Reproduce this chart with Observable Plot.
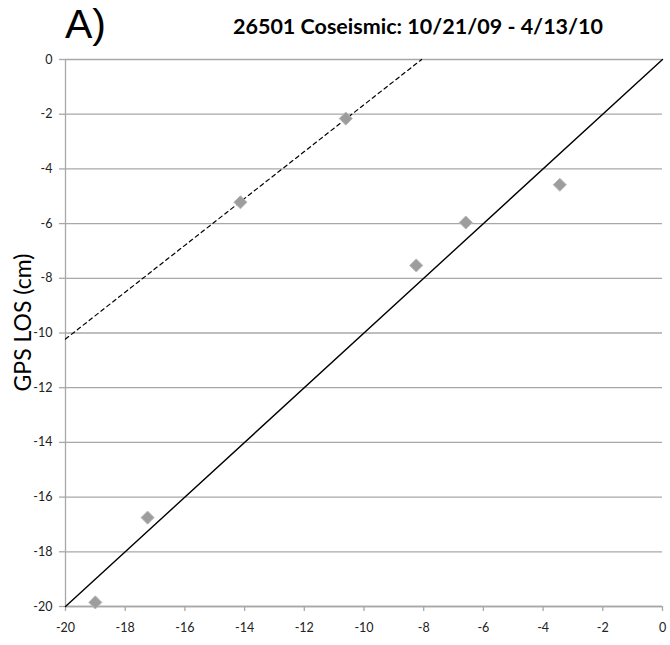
<!DOCTYPE html>
<html><head><meta charset="utf-8">
<script src="https://cdn.jsdelivr.net/npm/d3@7"></script>
<script src="https://cdn.jsdelivr.net/npm/@observablehq/plot@0.6"></script>
<style>body{margin:0;background:#fff}</style>
</head><body><div id="chart"></div>
<script>
// data
const pointX = [-19.0, -17.25, -14.14, -10.61, -8.25, -6.59, -3.44];
const pointY = [-19.85, -16.75, -5.22, -2.16, -7.53, -5.96, -4.58];
const oneToOneX = [-20, 0];
const oneToOneY = [-20, 0];
const fitX = [-20, -8.07];
const fitY = [-10.22, 0];
const tickValues = [-20, -18, -16, -14, -12, -10, -8, -6, -4, -2, 0];
const titleText = "26501 Coseismic: 10/21/09 - 4/13/10";
const panelText = "A)";
const yLabelText = "GPS LOS (cm)";

const points = pointX.map((x, i) => ({x, y: pointY[i]}));
const solid = oneToOneX.map((x, i) => ({x, y: oneToOneY[i]}));
const dashed = fitX.map((x, i) => ({x, y: fitY[i]}));

const grid = "#a8a8a8";
const fmt = d => String(d);
const chart = Plot.plot({
  width: 670, height: 645,
  marginLeft: 65, marginRight: 8, marginTop: 59, marginBottom: 39,
  style: {fontFamily: "Lato, 'Open Sans', sans-serif", background: "#fff", color: "#222"},
  x: {domain: [-20, 0]},
  y: {domain: [-20, 0]},
  marks: [
    Plot.gridY(tickValues, {stroke: grid, strokeOpacity: 1, strokeWidth: 1.3}),
    Plot.ruleX([-20], {stroke: grid, strokeWidth: 1.3}),
    Plot.ruleY([-20], {stroke: grid, strokeWidth: 1.3}),
    Plot.axisY({ticks: tickValues, tickSize: 6, tickPadding: 7, stroke: grid, strokeWidth: 1.3, fontSize: 12.5, label: null, tickFormat: fmt}),
    Plot.axisX({ticks: tickValues, tickSize: 5, tickPadding: 12, stroke: grid, strokeWidth: 1.3, fontSize: 12.5, label: null, tickFormat: fmt}),
    Plot.line(solid, {x: "x", y: "y", stroke: "black", strokeWidth: 1.4}),
    Plot.line(dashed, {x: "x", y: "y", stroke: "black", strokeWidth: 1.2, strokeDasharray: "4,3.5"}),
    Plot.dot(points, {x: "x", y: "y", symbol: "diamond2", r: 5.9, fill: "#9d9d9d", stroke: "#bababa", strokeWidth: 1}),
    Plot.text([titleText], {frameAnchor: "top", lineAnchor: "middle", dx: 54, dy: -32, fontSize: 21.5, fontWeight: "bold", fill: "black"}),
    Plot.text([panelText], {frameAnchor: "top-left", lineAnchor: "middle", textAnchor: "middle", dx: 20, dy: -35, fontSize: 41, fill: "black", fontFamily: "'Liberation Sans', Arial, sans-serif"}),
    Plot.text([yLabelText], {frameAnchor: "left", lineAnchor: "middle", textAnchor: "middle", dx: -42, dy: -10.5, rotate: -90, fontSize: 23, fill: "black"})
  ]
});
document.getElementById("chart").appendChild(chart);
</script>
</body></html>
